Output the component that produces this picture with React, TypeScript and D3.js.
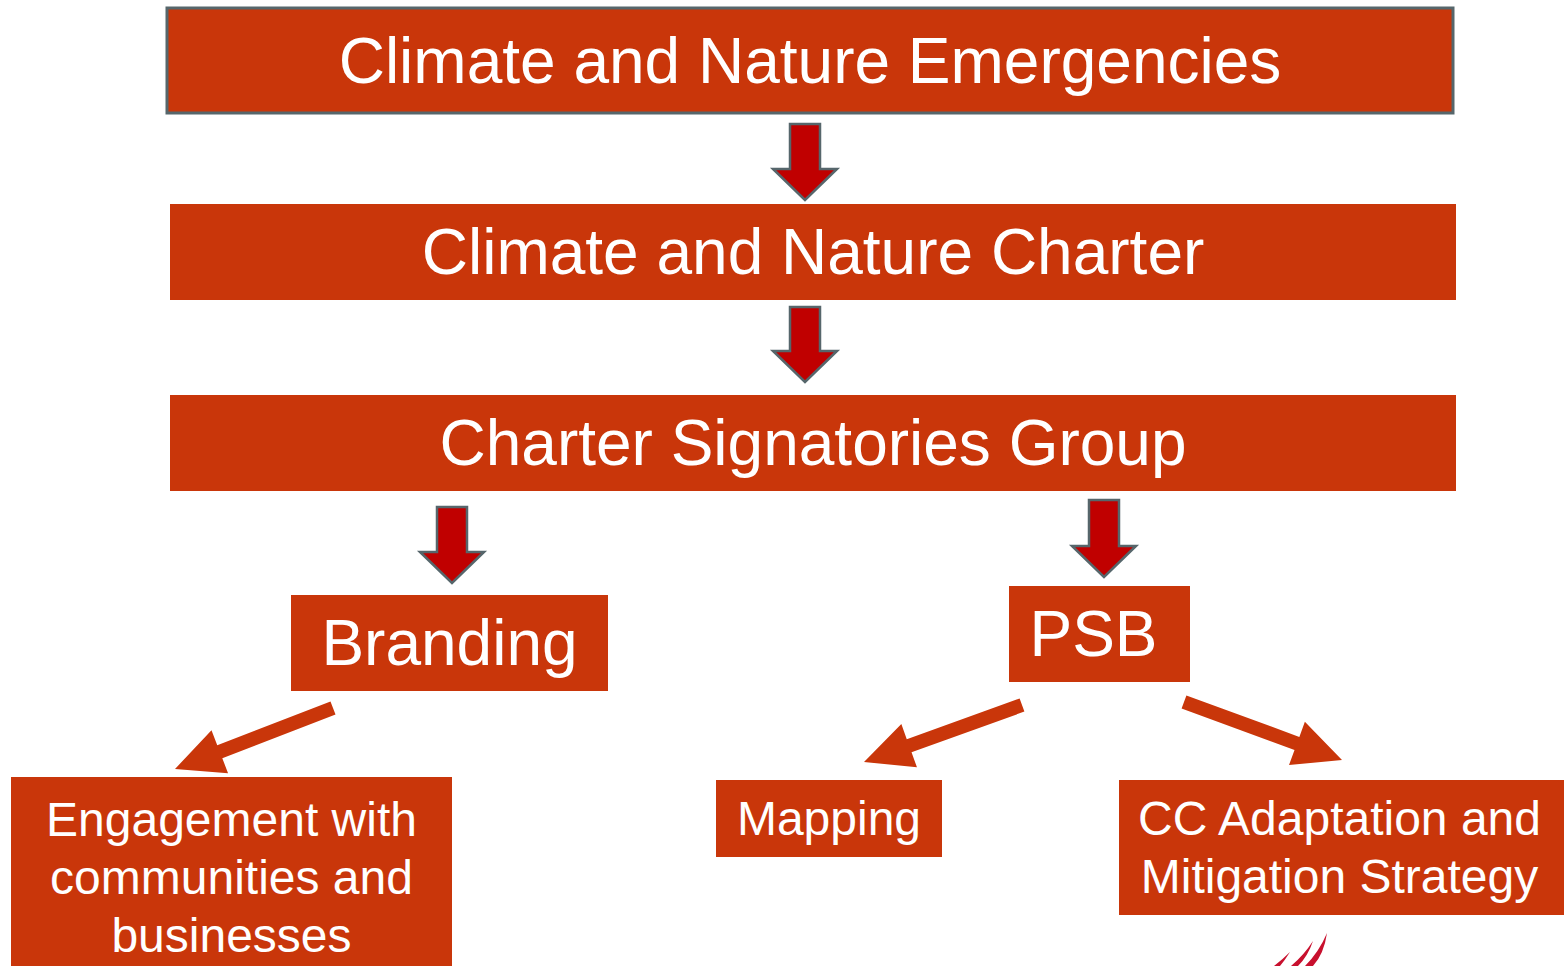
import * as d3 from 'd3';
import React from 'react';

// box labels (one entry per line)
const boxLabels: string[][] = [
  ['Climate and Nature Emergencies'],
  ['Climate and Nature Charter'],
  ['Charter Signatories Group'],
  ['Branding'],
  ['PSB'],
  ['Engagement with', 'communities and', 'businesses'],
  ['Mapping'],
  ['CC Adaptation and', 'Mitigation Strategy'],
];

// layout of the boxes: [x, y, w, h, fontSize, lineHeight, textDx, outlined]
const boxLayout: [number, number, number, number, number, number, number, boolean][] = [
  [167, 8, 1286, 105, 64, 64, 0, true],
  [170, 204, 1286, 96, 64, 64, 0, false],
  [170, 395, 1286, 96, 64, 64, 0, false],
  [291, 595, 317, 96, 64, 64, 0, false],
  [1009, 586, 181, 96, 64, 64, -6, false],
  [11, 777, 441, 200, 48, 58, 0, false],
  [716, 780, 226, 77, 48, 58, 0, false],
  [1119, 780, 445, 135, 48, 58, -2, false],
];

// down arrows (tail -> tip)
const downArrows: [number, number, number, number][] = [
  [805, 124, 805, 200],
  [805, 307, 805, 382],
  [452, 507, 452, 583],
  [1104, 500, 1104, 577],
];

// diagonal arrows (tail -> tip)
const slantArrows: [number, number, number, number][] = [
  [333, 708, 175, 769],
  [1022, 705, 864, 762],
  [1184, 702, 1342, 760],
];

const params = {
  boxFill: '#C9360A',
  boxStroke: '#56666B',
  downFill: '#C00000',
  font: '"Liberation Sans", Arial, sans-serif',
};

const arrowPoints = (t: number[], shaftW: number, headL: number, headW: number) => {
  const [x0, y0, x1, y1] = t;
  const len = Math.hypot(x1 - x0, y1 - y0);
  const ux = (x1 - x0) / len, uy = (y1 - y0) / len;
  const nx = -uy, ny = ux;
  const bx = x1 - ux * headL, by = y1 - uy * headL;
  const p = (x: number, y: number, s: number): [number, number] => [x + nx * s, y + ny * s];
  return [
    p(x0, y0, shaftW / 2),
    p(bx, by, shaftW / 2),
    p(bx, by, headW / 2),
    [x1, y1] as [number, number],
    p(bx, by, -headW / 2),
    p(bx, by, -shaftW / 2),
    p(x0, y0, -shaftW / 2),
  ];
};

const line = d3.line<[number, number]>().curve(d3.curveLinearClosed);

export default function App() {
  return (
    <div style={{ position: 'fixed', left: 0, top: 0 }}>
      <svg width={1564} height={966} style={{ display: 'block', background: '#fff' }}>
        {boxLabels.map((lines, i) => {
          const [x, y, w, h, fs, lh, tdx, outlined] = boxLayout[i];
          const cy = y + h / 2;
          const first = cy - ((lines.length - 1) * lh) / 2;
          return (
            <g key={i}>
              <rect x={x} y={y} width={w} height={h} fill={params.boxFill}
                stroke={outlined ? params.boxStroke : 'none'} strokeWidth={outlined ? 3 : 0} />
              {lines.map((l, j) => (
                <text key={j} x={x + w / 2 + tdx} y={first + j * lh} dy="0.35em" textAnchor="middle"
                  fill="#fff" fontSize={fs} fontFamily={params.font}>{l}</text>
              ))}
            </g>
          );
        })}
        {downArrows.map((a, i) => (
          <path key={'d' + i} d={line(arrowPoints(a, 30, 31, 64)) || ''}
            fill={params.downFill} stroke={params.boxStroke} strokeWidth={2.5} strokeLinejoin="miter" />
        ))}
        {slantArrows.map((a, i) => (
          <path key={'s' + i} d={line(arrowPoints(a, 14, 48, 46)) || ''} fill={params.boxFill} />
        ))}
        {/* logo fragment at bottom */}
        <g fill="#C8102E">
          <path d="M1327,933 Q1324,954 1313,966 L1305,966 Q1319,952 1327,933 Z" />
          <path d="M1313,941 Q1308,956 1298,966 L1291,966 Q1304,955 1313,941 Z" />
          <path d="M1290,952 Q1285,960 1280,966 L1274,966 Q1283,959 1290,952 Z" />
        </g>
      </svg>
    </div>
  );
}
